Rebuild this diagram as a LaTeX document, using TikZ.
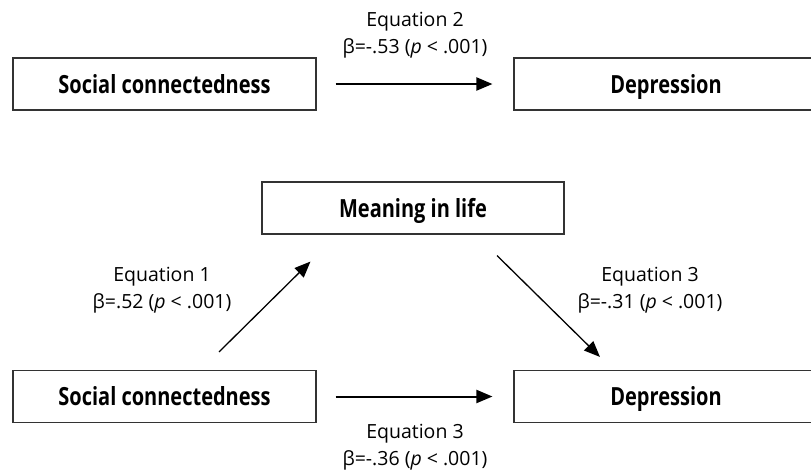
\documentclass[tikz,border=0pt]{standalone}
\usepackage{fontspec}
\setmainfont{Open Sans}
\newfontfamily\boxfont{Open Sans}[FakeStretch=0.8]
\usetikzlibrary{arrows.meta,calc}
\tikzset{
  varbox/.style={draw=black!80, line width=1.1pt, rectangle, minimum width=303pt, minimum height=52pt, inner sep=0pt,
    text height=18pt, text depth=0pt,
    font=\boxfont\bfseries\fontsize{25}{28}\selectfont},
  lbl/.style={align=center, inner sep=0pt, font=\fontsize{19.5}{27}\selectfont},
  arr/.style={line width=1.3pt, -{Triangle[length=16pt,width=13pt]}},
  harr/.style={line width=2pt, -{Triangle[length=16pt,width=13pt]}}
}
\begin{document}
\begin{tikzpicture}[x=1pt,y=-1pt]
\useasboundingbox (0,0) rectangle (811,475);
\node[varbox] (sc1) at (164.5,84) {Social connectedness};
\node[varbox, minimum width=304pt] (dep1) at (666,84) {Depression};
\node[varbox, minimum width=302pt] (mil) at (413,208) {Meaning in life};
\node[varbox] (sc2) at (164.5,396.5) {Social connectedness};
\node[varbox, minimum width=304pt] (dep2) at (666,396.5) {Depression};

\draw[harr, shorten <=19pt, shorten >=21pt] (sc1) -- (dep1);
\draw[harr, shorten <=19pt, shorten >=21pt] (sc2) -- (dep2);

\coordinate (a1s) at ([xshift=54.5pt,yshift=18pt]sc2.north);
\coordinate (a1e) at ([xshift=49pt,yshift=-27pt]mil.south west);
\coordinate (a2s) at ([xshift=84pt,yshift=-21pt]mil.south);
\coordinate (a2e) at ([xshift=-66pt,yshift=13pt]dep2.north);
\draw[arr] (a1s) -- (a1e);
\draw[arr] (a2s) -- (a2e);

\node[lbl] (l1) at (415,35) {Equation 2\\ β=-.53 (\textit{p} < .001)};
\node[lbl] (l2) at (162,290) {Equation 1\\ β=.52 (\textit{p} < .001)};
\node[lbl] (l3) at (650,290) {Equation 3\\ β=-.31 (\textit{p} < .001)};
\node[lbl] (l4) at (415,447) {Equation 3\\ β=-.36 (\textit{p} < .001)};
\end{tikzpicture}
\end{document}
